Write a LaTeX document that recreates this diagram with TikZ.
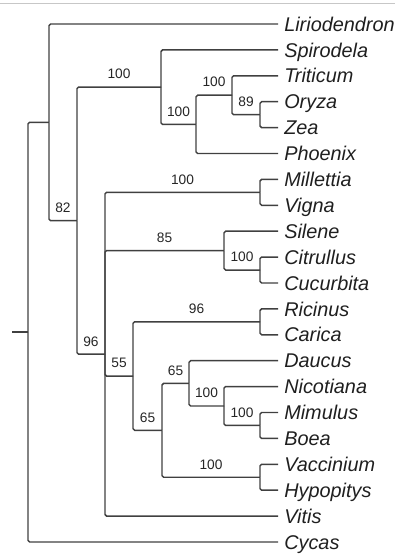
\documentclass[tikz,border=0pt]{standalone}
\usepackage{fontspec}
\setmainfont{Liberation Sans}

\begin{document}
\begin{tikzpicture}[
    x=0.75pt, y=-0.75pt,
    branch/.style={draw=black!75, line width=1.1pt, rounded corners=1.2pt},
    taxon/.style={anchor=west, inner xsep=4.5pt, inner ysep=0pt, text height=10.7pt, text depth=0pt,
        font=\fontsize{14.9}{16}\selectfont\itshape, text=black!88},
    boot/.style={above=5.5pt, inner sep=0pt, font=\fontsize{10.3}{11}\selectfont, text=black!85}
]
    \useasboundingbox (0,0) rectangle (398,556);

    % Top rule
    \coordinate (ruleL) at (0,3.5);
    \coordinate (ruleR) at (395,3.5);
    \draw[draw=black!22, line width=0.8pt] (ruleL) -- (ruleR);

    % Taxa (tips)
    \node[taxon] (lirio) at (278,24.0) {Liriodendron};
    \node[taxon] (spiro) at (278,49.9) {Spirodela};
    \node[taxon] (triti) at (278,75.8) {Triticum};
    \node[taxon] (oryza) at (278,101.7) {Oryza};
    \node[taxon] (zea) at (278,127.6) {Zea};
    \node[taxon] (phoen) at (278,153.5) {Phoenix};
    \node[taxon] (mille) at (278,179.4) {Millettia};
    \node[taxon] (vigna) at (278,205.3) {Vigna};
    \node[taxon] (silen) at (278,231.2) {Silene};
    \node[taxon] (citru) at (278,257.1) {Citrullus};
    \node[taxon] (cucur) at (278,283.0) {Cucurbita};
    \node[taxon] (ricin) at (278,308.9) {Ricinus};
    \node[taxon] (caric) at (278,334.8) {Carica};
    \node[taxon] (daucu) at (278,360.7) {Daucus};
    \node[taxon] (nicot) at (278,386.6) {Nicotiana};
    \node[taxon] (mimul) at (278,412.5) {Mimulus};
    \node[taxon] (boea) at (278,438.4) {Boea};
    \node[taxon] (vacci) at (278,464.3) {Vaccinium};
    \node[taxon] (hypop) at (278,490.2) {Hypopitys};
    \node[taxon] (vitis) at (278,516.1) {Vitis};
    \node[taxon] (cycas) at (278,542.0) {Cycas};

    % Internal nodes
    \coordinate (stub) at (12,332.2);
    \coordinate (root) at (28,332.2);
    \coordinate (angio) at (49,122.3);
    \coordinate (meso) at (77,220.7);
    \coordinate (monoc) at (161,87.1);
    \coordinate (commel) at (196,124.4);
    \coordinate (poac) at (232,95.2);
    \coordinate (oryzea) at (260,114.65);
    \coordinate (eudic) at (105,354.2);
    \coordinate (fabac) at (260,192.35);
    \coordinate (caryo) at (224,250.6);
    \coordinate (cucurb) at (260,270.05);
    \coordinate (core) at (133,376.1);
    \coordinate (malpi) at (260,321.85);
    \coordinate (aster) at (162,430.3);
    \coordinate (campa) at (189,383.4);
    \coordinate (lamia) at (224,406.0);
    \coordinate (lamiid) at (260,425.45);
    \coordinate (erica) at (260,477.25);

    % Root
    \draw[branch] (stub) -- (root);
    \draw[branch] (root) |- (angio);
    \draw[branch] (root) |- (cycas.west);

    % Angiosperms
    \draw[branch] (angio) |- (lirio.west);
    \draw[branch] (angio) |- node[boot, pos=0.75] {82} (meso);
    \draw[branch] (meso) |- node[boot, pos=0.75] {100} (monoc);
    \draw[branch] (meso) |- node[boot, pos=0.75] {96} (eudic);

    % Monocots
    \draw[branch] (monoc) |- (spiro.west);
    \draw[branch] (monoc) |- node[boot, pos=0.75] {100} (commel);
    \draw[branch] (commel) |- node[boot, pos=0.75] {100} (poac);
    \draw[branch] (commel) |- (phoen.west);
    \draw[branch] (poac) |- (triti.west);
    \draw[branch] (poac) |- node[boot, pos=0.75] {89} (oryzea);
    \draw[branch] (oryzea) |- (oryza.west);
    \draw[branch] (oryzea) |- (zea.west);

    % Eudicots
    \draw[branch] (eudic) |- node[boot, pos=0.75] {100} (fabac);
    \draw[branch] (eudic) |- node[boot, pos=0.75] {85} (caryo);
    \draw[branch] (eudic) |- node[boot, pos=0.75] {55} (core);
    \draw[branch] (eudic) |- (vitis.west);
    \draw[branch] (fabac) |- (mille.west);
    \draw[branch] (fabac) |- (vigna.west);
    \draw[branch] (caryo) |- (silen.west);
    \draw[branch] (caryo) |- node[boot, pos=0.75] {100} (cucurb);
    \draw[branch] (cucurb) |- (citru.west);
    \draw[branch] (cucurb) |- (cucur.west);
    \draw[branch] (core) |- node[boot, pos=0.75] {96} (malpi);
    \draw[branch] (core) |- node[boot, pos=0.75] {65} (aster);
    \draw[branch] (malpi) |- (ricin.west);
    \draw[branch] (malpi) |- (caric.west);

    % Asterids
    \draw[branch] (aster) |- node[boot, pos=0.75] {65} (campa);
    \draw[branch] (aster) |- node[boot, pos=0.75] {100} (erica);
    \draw[branch] (campa) |- (daucu.west);
    \draw[branch] (campa) |- node[boot, pos=0.75] {100} (lamia);
    \draw[branch] (lamia) |- (nicot.west);
    \draw[branch] (lamia) |- node[boot, pos=0.75] {100} (lamiid);
    \draw[branch] (lamiid) |- (mimul.west);
    \draw[branch] (lamiid) |- (boea.west);
    \draw[branch] (erica) |- (vacci.west);
    \draw[branch] (erica) |- (hypop.west);
\end{tikzpicture}
\end{document}
